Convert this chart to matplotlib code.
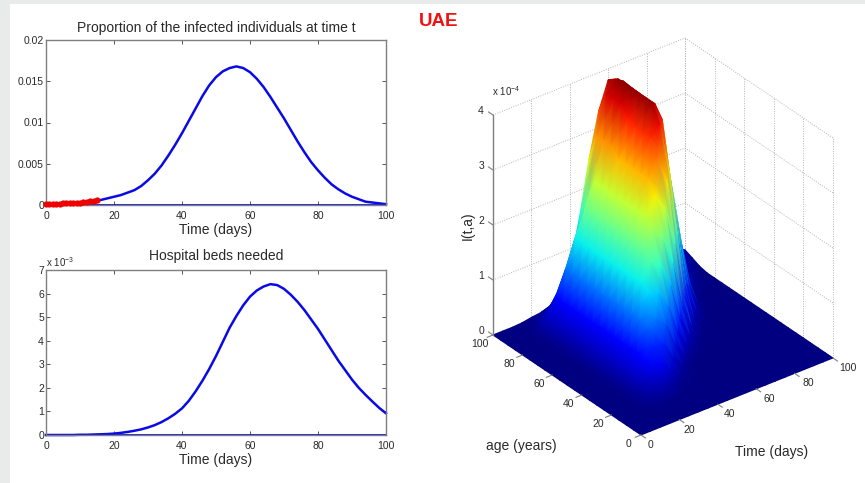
import numpy as np
import matplotlib
matplotlib.use('Agg')
import matplotlib.pyplot as plt
from matplotlib.patches import Rectangle

plt.rcParams['font.family'] = ['Liberation Sans', 'DejaVu Sans']
plt.rcParams['mathtext.default'] = 'regular'

# --- values ---
days = list(range(0, 101, 2))
infected = [.0001, .0001, .0001, .0002, .0002, .0003, .0004, .0005, .0006, .0008, .001, .0012, .0015,
            .0018, .0023, .003, .0038, .0048, .006, .0073, .0087, .0102, .0117, .0132, .0145, .0155,
            .0162, .0166, .0168, .0166, .0161, .0153, .0143, .0131, .0118, .0105, .0091, .0077, .0064,
            .0052, .0042, .0033, .0025, .0019, .0014, .001, .0007, .0004, .0003, .0002, .0001]
beds = [0, 0, 0, 0, 0, .01, .01, .02, .03, .04, .06, .09, .13, .18, .24, .32, .42, .55, .71, .9, 1.13,
        1.45, 1.85, 2.3, 2.8, 3.35, 3.95, 4.55, 5.05, 5.5, 5.87, 6.13, 6.3, 6.4, 6.36, 6.2, 5.95, 5.65,
        5.3, 4.9, 4.5, 4.05, 3.6, 3.15, 2.75, 2.35, 2.0, 1.7, 1.42, 1.15, .92]
obs_days = [0, 1, 2, 3, 4, 5, 6, 7, 8, 9, 10, 11, 12, 13, 14, 15]
obs_infected = [.0001, .0001, .0001, .0001, .0001, .0002, .0002, .0002, .0002, .0003, .0003, .0004, .0004, .0005, .0005, .0006]

# surface I(t,a) in units of 1e-4, rows are age, columns are time
surf_t = [0, 5, 10, 15, 20, 25, 30, 35, 40, 45, 50, 55, 60, 65, 70, 75, 80, 85, 90, 95, 100]
surf_a = [0, 5, 10, 15, 20, 25, 30, 35, 40, 45, 50, 55, 60, 65, 70, 75, 80, 85, 90, 95, 100]
surf_z = [
    [0, 0, 0, 0, 0, 0, 0, 0, 0, 0, 0, 0, 0, 0, 0, 0, 0, 0, 0, 0, 0],
    [0, 0, 0, 0, 0, 0, 0, 0, 0, 0, 0, 0, 0, 0, 0, 0, 0, 0, 0, 0, 0],
    [0, 0, .01, .01, .02, .01, 0, 0, 0, 0, 0, 0, 0, 0, 0, 0, 0, 0, 0, 0, 0],
    [0, 0, .01, .03, .06, .06, .04, .01, 0, 0, 0, 0, 0, 0, 0, 0, 0, 0, 0, 0, 0],
    [0, 0, .01, .05, .15, .2, .15, .06, .02, 0, 0, 0, 0, 0, 0, 0, 0, 0, 0, 0, 0],
    [0, 0, .01, .05, .2, .34, .42, .22, .08, .02, 0, 0, 0, 0, 0, 0, 0, 0, 0, 0, 0],
    [0, 0, .01, .05, .22, .45, .64, .61, .29, .09, .03, 0, 0, 0, 0, 0, 0, 0, 0, 0, 0],
    [0, 0, .01, .05, .22, .5, .87, .99, .8, .35, .11, .03, 0, 0, 0, 0, 0, 0, 0, 0, 0],
    [0, 0, .01, .05, .22, .5, .95, 1.33, 1.29, .99, .43, .14, .04, 0, 0, 0, 0, 0, 0, 0, 0],
    [0, 0, .01, .05, .22, .5, .95, 1.45, 1.75, 1.6, 1.2, .52, .16, .04, 0, 0, 0, 0, 0, 0, 0],
    [0, 0, .01, .05, .22, .5, .95, 1.45, 1.9, 2.16, 1.94, 1.45, .59, .16, .03, 0, 0, 0, 0, 0, 0],
    [0, 0, .01, .05, .22, .5, .95, 1.45, 1.9, 2.35, 2.62, 2.35, 1.65, .59, .13, .03, 0, 0, 0, 0, 0],
    [0, 0, .01, .05, .22, .5, .95, 1.45, 1.9, 2.35, 2.85, 3.17, 2.67, 1.65, .5, .11, .01, 0, 0, 0, 0],
    [0, 0, .01, .05, .22, .5, .95, 1.45, 1.9, 2.35, 2.85, 3.45, 3.61, 2.67, 1.34, .41, .05, .01, 0, 0, 0],
    [0, 0, .01, .05, .22, .5, .95, 1.45, 1.9, 2.35, 2.85, 3.45, 3.92, 3.55, 2.18, 1.16, .18, .02, 0, 0, 0],
    [0, 0, .01, .05, .22, .5, .95, 1.45, 1.9, 2.35, 2.85, 3.45, 3.92, 3.75, 2.94, 1.87, .5, .09, .01, 0, 0],
    [0, 0, .01, .05, .22, .5, .95, 1.45, 1.9, 2.35, 2.85, 3.55, 3.92, 3.75, 3.2, 2.53, .82, .25, .05, .01, 0],
    [0, 0, .01, .05, .22, .5, .95, 1.45, 1.9, 2.35, 3.0, 3.7, 3.94, 3.75, 3.2, 2.75, 1.1, .41, .15, .03, 0],
    [0, 0, .01, .05, .22, .5, .95, 1.45, 1.9, 2.35, 3.0, 3.7, 3.96, 3.75, 3.2, 2.75, 1.2, .55, .24, .08, .03],
    [0, 0, 0, .02, .08, .2, .4, .8, 1.35, 1.9, 3.0, 3.7, 3.9, 3.75, 3.25, 2.75, 1.2, .6, .32, .14, .09],
    [0, 0, 0, .01, .04, .06, .07, .2, .7, 1.5, 2.5, 3.3, 3.8, 3.75, 3.3, 2.75, 1.2, .6, .35, .25, .15],
]
xticks_2d = [0, 20, 40, 60, 80, 100]
yticks_top = [0, .005, .01, .015, .02]
ylabels_top = ['0', '0.005', '0.01', '0.015', '0.02']
yticks_bottom = [0, 1, 2, 3, 4, 5, 6, 7]
ticks_3d = [0, 20, 40, 60, 80, 100]
zticks_3d = [0, 1, 2, 3, 4]

W, H = 865, 483
GRAY = '#7f7f7f'
TXT = '#2a2a2a'
LINE = '#0a0ae6'


def add_panel(top, bottom):
    ax = fig.add_axes([46 / W, 1 - bottom / H, 340 / W, (bottom - top) / H])
    ax.set_xlim(0, 100)
    ax.set_xticks(xticks_2d)
    ax.tick_params(direction='in', top=True, right=True, length=3, width=.7, color='#555555',
                   labelsize=7.5, labelcolor=TXT, pad=1.5)
    ax.tick_params(axis='x', pad=4)
    for s in ax.spines.values():
        s.set_color(GRAY)
        s.set_linewidth(1)
    ax.set_xlabel('Time (days)', fontsize=10, color=TXT, labelpad=1.5)
    return ax


# projection of the 3d box on the page, matlab default view
def project(t, a, z):
    t, a, z = np.asarray(t, float), np.asarray(a, float), np.asarray(z, float)
    return 641 + 1.92 * t - 1.48 * a, 435 - .77 * t - 1.0 * a - 55 * z


fig = plt.figure(figsize=(W / 100, H / 100), dpi=100, facecolor='#e9ebeb')

# page + 3d panel share one full size axes in pixel units
page = fig.add_axes([0, 0, 1, 1])
page.set_xlim(0, W)
page.set_ylim(H, 0)
page.axis('off')
page.add_patch(Rectangle((10, 4), W, H, facecolor='white', edgecolor='none', zorder=0))

grid = dict(color='#b4b4b4', lw=.7, ls=(0, (1, 1.5)), zorder=1)
for v in ticks_3d:
    page.plot(*project([v, v], [100, 100], [0, 4]), **grid)
    page.plot(*project([100, 100], [v, v], [0, 4]), **grid)
for z in zticks_3d:
    page.plot(*project([0, 100], [100, 100], [z, z]), **grid)
    page.plot(*project([100, 100], [100, 0], [z, z]), **grid)

T, A = np.meshgrid(surf_t, surf_a)
Z = np.array(surf_z)
X3, Y3 = project(T, A, Z)
# flipped so the far corner is painted first and the near cells cover it
page.pcolormesh(X3[::-1, ::-1], Y3[::-1, ::-1], Z[::-1, ::-1], shading='gouraud', cmap='jet',
                vmin=0, vmax=4, zorder=2)

# z axis
page.plot(*project([0, 0], [100, 100], [0, 4]), color=GRAY, lw=1, zorder=3)
for z in zticks_3d:
    page.plot(*project([0, 0], [100, 103], [z, z]), color=GRAY, lw=.8, zorder=3)
    x, y = project(0, 100, z)
    page.text(x - 9, y - 4, str(z), ha='right', va='center', fontsize=7.5, color=TXT)
for v in ticks_3d:
    page.plot(*project([0, -3], [v, v], [0, 0]), color=GRAY, lw=.8, zorder=3)
    page.plot(*project([v, v], [0, -3], [0, 0]), color=GRAY, lw=.8, zorder=3)
    x, y = project(0, v, 0)
    page.text(x - 13, y + 9, str(v), ha='center', va='center', fontsize=7.5, color=TXT)
    x, y = project(v, 0, 0)
    page.text(x + 9 + v * .06, y + 10, str(v), ha='center', va='center', fontsize=7.5, color=TXT)

page.text(492, 91, r'x $10^{-4}$', ha='left', va='center', fontsize=7, color=TXT)
page.text(468, 226, 'I(t,a)', rotation=90, ha='center', va='center', fontsize=10, color=TXT)
page.text(521, 446, 'age (years)', ha='center', va='center', fontsize=10, color=TXT)
page.text(772, 452, 'Time (days)', ha='center', va='center', fontsize=10, color=TXT)
page.text(439, 22, 'UAE', color='#f01010', fontsize=13.5, fontweight='bold', ha='center', va='center')

# top panel
ax1 = add_panel(40, 205)
ax1.plot([0, 100], [0, 0], color=LINE, lw=1.3, clip_on=False)
ax1.plot(days, infected, color=LINE, lw=1.8, clip_on=False)
ax1.plot(obs_days, obs_infected, 'o', color='#f00000', ms=4.5, mew=0, clip_on=False, zorder=4)
ax1.set_ylim(0, .02)
ax1.set_yticks(yticks_top)
ax1.set_yticklabels(ylabels_top)
ax1.set_title('Proportion of the infected individuals at time t', fontsize=10, color=TXT, pad=6)

# bottom panel
ax2 = add_panel(270, 435)
ax2.plot([0, 100], [0, 0], color=LINE, lw=1.3, clip_on=False)
ax2.plot(days, beds, color=LINE, lw=1.8, clip_on=False)
ax2.set_ylim(0, 7)
ax2.set_yticks(yticks_bottom)
ax2.set_title('Hospital beds needed', fontsize=10, color=TXT, pad=7)
page.text(46, 262, r'x $10^{-3}$', ha='left', va='center', fontsize=7, color=TXT)

fig.savefig('out.png', dpi=100, facecolor=fig.get_facecolor())
